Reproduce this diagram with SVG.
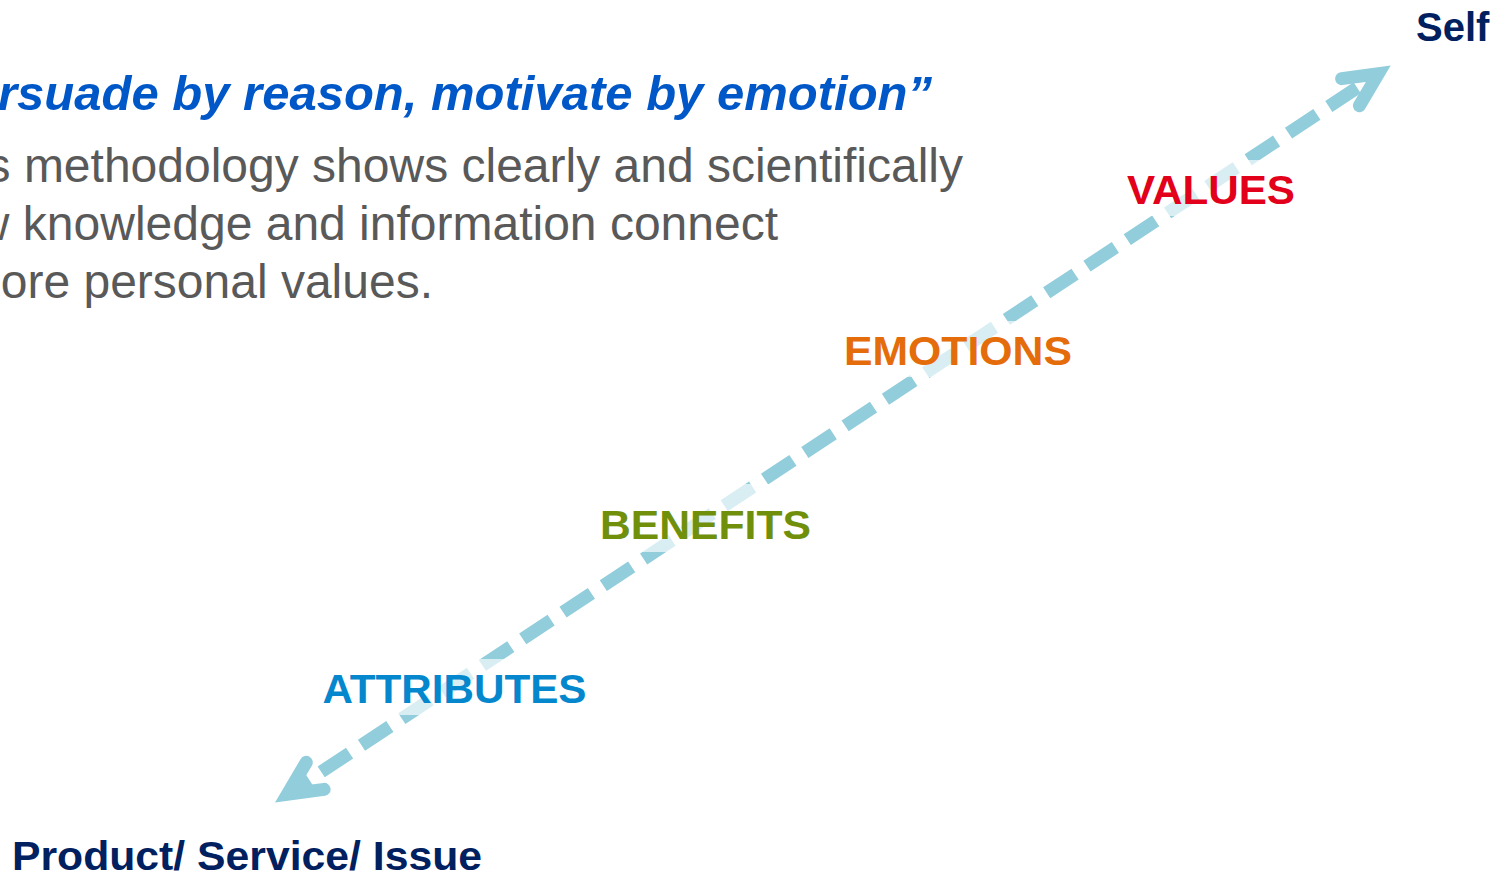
<svg xmlns="http://www.w3.org/2000/svg" width="1500" height="876" viewBox="0 0 1500 876">
  <style>
    .quote { font-family: "Liberation Sans", Arial, sans-serif; font-size: 48px; font-weight: bold; font-style: italic; fill: #0057C8; }
    .body { font-family: "Liberation Sans", Arial, sans-serif; font-size: 48px; fill: #595959; }
    .label { font-family: "Liberation Sans", Arial, sans-serif; font-size: 40px; font-weight: bold; }
    .end { fill: #002060; }
    .veil { fill: #FFFFFF; fill-opacity: 0.65; }
    .axis { fill: none; stroke: #92CDDC; stroke-width: 13; stroke-dasharray: 34 14.3; stroke-dashoffset: 23; }
    .head { fill: none; stroke: #92CDDC; stroke-width: 13; stroke-linecap: round; stroke-linejoin: miter; stroke-miterlimit: 6; }
  </style>
  <defs>
    <marker id="chevron" markerUnits="userSpaceOnUse" orient="auto-start-reverse" refX="0" refY="0" markerWidth="1" markerHeight="1" overflow="visible">
      <path class="head" d="M -33.3 -16.2 L 0 0 L -33.3 16.2"/>
    </marker>
  </defs>

  <!-- intro copy -->
  <g id="intro">
    <text class="quote" x="-2" y="110" textLength="934" lengthAdjust="spacingAndGlyphs">rsuade by reason, motivate by emotion”</text>
    <text class="body" x="963" y="182" text-anchor="end">s methodology shows clearly and scientifically</text>
    <text class="body" x="778" y="240" text-anchor="end">w knowledge and information connect</text>
    <text class="body" x="433" y="298" text-anchor="end">ore personal values.</text>
  </g>

  <!-- double-headed dashed ladder axis -->
  <g id="connectors">
    <path id="ladder-axis" class="axis" d="M 1378.3 73.8 L 287.4 794.2" marker-start="url(#chevron)" marker-end="url(#chevron)"/>
  </g>

  <g id="self">
    <text class="label end" x="1416" y="41">Self</text>
  </g>

  <g id="values">
    <rect class="veil" x="1117" y="160" width="188" height="56"/>
    <text class="label" x="1127" y="204" fill="#E2001A" textLength="168" lengthAdjust="spacingAndGlyphs">VALUES</text>
  </g>

  <g id="emotions">
    <rect class="veil" x="834" y="321" width="248" height="56"/>
    <text class="label" x="844" y="365" fill="#E46C0A" textLength="228" lengthAdjust="spacingAndGlyphs">EMOTIONS</text>
  </g>

  <g id="benefits">
    <rect class="veil" x="590" y="484" width="231" height="68"/>
    <text class="label" x="600" y="539" fill="#70900C" textLength="211" lengthAdjust="spacingAndGlyphs">BENEFITS</text>
  </g>

  <g id="attributes">
    <rect class="veil" x="312" y="659" width="284" height="56"/>
    <text class="label" x="322.5" y="703" fill="#0587CD" textLength="264" lengthAdjust="spacingAndGlyphs">ATTRIBUTES</text>
  </g>

  <g id="product">
    <text class="label end" x="12" y="870" textLength="470" lengthAdjust="spacingAndGlyphs">Product/ Service/ Issue</text>
  </g>
</svg>
